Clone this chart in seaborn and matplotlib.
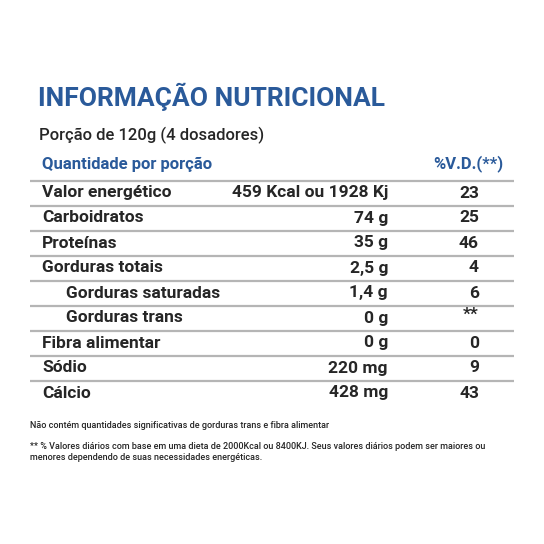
import matplotlib
matplotlib.use("Agg")
import matplotlib.pyplot as plt
import seaborn as sns

sns.set_theme(style="white")
plt.rcParams['font.family'] = ['Roboto', 'DejaVu Sans']

title = "INFORMAÇÃO NUTRICIONAL"
portion = "Porção de 120g (4 dosadores)"
nutrients = ["Valor energético", "Carboidratos", "Proteínas", "Gorduras totais",
             "Gorduras saturadas", "Gorduras trans", "Fibra alimentar", "Sódio", "Cálcio"]
indented = [False, False, False, False, True, True, False, False, False]
amounts = ["459 Kcal ou 1928 Kj", "74 g", "35 g", "2,5 g", "1,4 g", "0 g", "0 g", "220 mg", "428 mg"]
vd = ["23", "25", "46", "4", "6", "**", "0", "9", "43"]
footer1 = "Não contém quantidades significativas de gorduras trans e fibra alimentar"
footer2 = ("** % Valores diários com base em uma dieta de 2000Kcal ou 8400KJ. Seus valores diários podem ser maiores ou\n"
           "menores dependendo de suas necessidades energéticas.")

blue = "#2a5a9a"
dark = "#262626"

fig = plt.figure(figsize=(5.44, 5.44), dpi=100)
ax = fig.add_axes([0, 0, 1, 1])
ax.set_xlim(0, 544); ax.set_ylim(544, 0); ax.axis("off")

ax.text(38, 97, title, color=blue, fontsize=19, fontweight="bold", va="center", ha="left")
ax.text(39, 135, portion, color=dark, fontsize=12, fontweight="medium", va="center", ha="left")
ax.text(42, 164, "Quantidade por porção", color=blue, fontsize=12, fontweight="bold", va="center")
ax.text(503, 164, "%V.D.(**)", color=blue, fontsize=12, fontweight="bold", va="center", ha="right")

row0, step = 193, 25
ax.hlines([181 + step * i for i in range(len(nutrients))], 30, 514, color="#b5b5b5", lw=1.6)
for i, (n, ind, a, v) in enumerate(zip(nutrients, indented, amounts, vd)):
    y = row0 + step * i
    ax.text(66 if ind else 42, y, n, color=dark, fontsize=12.5, fontweight="bold", va="center")
    ax.text(388, y, a, color=dark, fontsize=12.5, fontweight="bold", va="center", ha="right")
    ax.text(479, y - (4 if v == "**" else 0), v, color=dark, fontsize=12.5, fontweight="bold",
            va="center", ha="right")

ax.text(30, 425, footer1, color=dark, fontsize=6.5, fontweight="medium", va="center")
ax.text(30, 452, footer2, color=dark, fontsize=6.5, fontweight="medium", va="center", linespacing=1.3)

fig.savefig("out.png", dpi=100, facecolor="white")
